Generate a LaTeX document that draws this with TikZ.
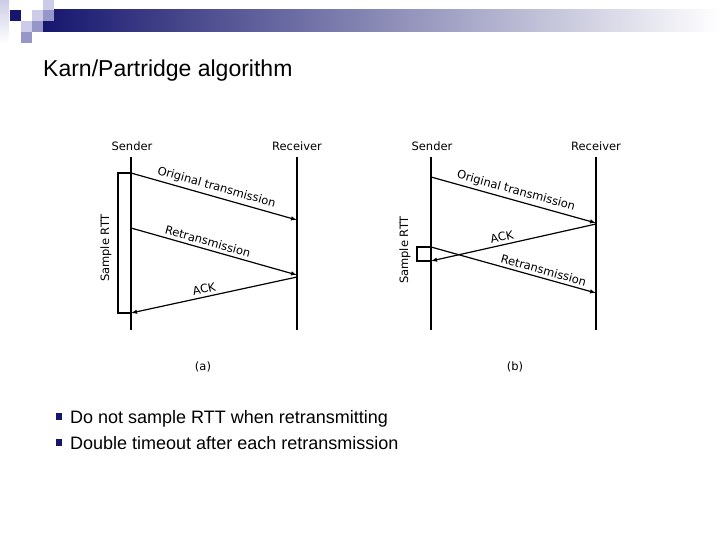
\documentclass[tikz,border=0pt]{standalone}
\usepackage{fontspec}
\setmainfont{Liberation Sans}
\newfontfamily\scanfont{DejaVu Sans}
\usetikzlibrary{positioning, arrows.meta, calc}

\definecolor{navy}{RGB}{22,22,110}
\definecolor{lavL}{RGB}{204,204,232}
\definecolor{lavM}{RGB}{150,150,200}

\begin{document}
\begin{tikzpicture}[x=1pt, y=-1pt, >={Latex[length=6pt,width=4.5pt]}]
    \tikzset{life/.style={line width=1.8pt},
             msg/.style={line width=1.2pt, ->},
             brk/.style={line width=1.1pt},
             lbl/.style={font=\scanfont\fontsize{11.5}{12}\selectfont, inner sep=1pt},
             bullet/.style={fill=navy, minimum size=6.5pt, inner sep=0pt},
             item/.style={anchor=base west, inner sep=0pt, font=\fontsize{18}{20}\selectfont}}
    \useasboundingbox (0,0) rectangle (720,540);

    % header bar and squares
    \shade[left color=navy, right color=white] (43,10) rectangle (720,32);
    \shade[top color=lavL, bottom color=white] (0,0) rectangle (9,43);
    \fill[navy] (10,10) rectangle (21,21);
    \fill[lavL] (32,10) rectangle (43,21);
    \fill[lavL] (43,0) rectangle (54,10);
    \fill[lavM] (43,10) rectangle (54,21);
    \fill[lavL] (21,21) rectangle (32,32);
    \fill[lavM] (32,21) rectangle (43,32);
    \fill[lavM] (21,32) rectangle (32,43);

    \node[anchor=base west, inner sep=0pt, font=\fontsize{23}{24}\selectfont] (title) at (43,77) {Karn/Partridge algorithm};

    % (a) timeout, ack for the retransmission
    \node[lbl] (sndA) at (132,146) {Sender};
    \node[lbl] (rcvA) at (297,146) {Receiver};
    \coordinate (sAt) at (131,157); \coordinate (sAb) at (131,330);
    \coordinate (rAt) at (297,157); \coordinate (rAb) at (297,330);
    \draw[life] (sAt) -- (sAb);
    \draw[life] (rAt) -- (rAb);
    \coordinate (a1) at (131,173); \coordinate (a2) at (297,220);
    \coordinate (a3) at (131,228); \coordinate (a4) at (297,275);
    \coordinate (a5) at (297,277); \coordinate (a6) at (131,313);
    \draw[msg] (a1) -- node[lbl, sloped, above=2pt] {Original transmission} (a2);
    \draw[msg] (a3) -- node[lbl, sloped, above=2pt, pos=0.45] {Retransmission} (a4);
    \draw[msg] (a5) -- node[lbl, sloped, above=2pt, pos=0.55] {ACK} (a6);
    \draw[brk] (a1) -- ++(-13,0) |- (a6);
    \node[lbl, rotate=90] (rttA) at (106,248) {Sample RTT};
    \node[lbl] (capA) at (203,367) {(a)};

    % (b) ack for the original, crosses the retransmission
    \node[lbl] (sndB) at (432,146) {Sender};
    \node[lbl] (rcvB) at (596,146) {Receiver};
    \coordinate (sBt) at (431,157); \coordinate (sBb) at (431,330);
    \coordinate (rBt) at (596,157); \coordinate (rBb) at (596,330);
    \draw[life] (sBt) -- (sBb);
    \draw[life] (rBt) -- (rBb);
    \coordinate (b1) at (431,177); \coordinate (b2) at (596,223);
    \coordinate (b3) at (596,224); \coordinate (b4) at (431,261);
    \coordinate (b5) at (431,247); \coordinate (b6) at (596,293);
    \draw[msg] (b1) -- node[lbl, sloped, above=2pt] {Original transmission} (b2);
    \draw[msg] (b3) -- node[lbl, sloped, above=2pt, pos=0.56] {ACK} (b4);
    \draw[msg] (b5) -- node[lbl, sloped, above=2pt, pos=0.67] {Retransmission} (b6);
    \draw[brk] (b5) -- ++(-14,0) |- (b4);
    \node[lbl, rotate=90] (rttB) at (405,250) {Sample RTT};
    \node[lbl] (capB) at (515,367) {(b)};

    % bullets
    \node[bullet] (dot1) at (59,416.5) {};
    \node[item] (txt1) at (70,423) {Do not sample RTT when retransmitting};
    \node[bullet] (dot2) at (59,442.5) {};
    \node[item] (txt2) at (70,449) {Double timeout after each retransmission};
\end{tikzpicture}
\end{document}
